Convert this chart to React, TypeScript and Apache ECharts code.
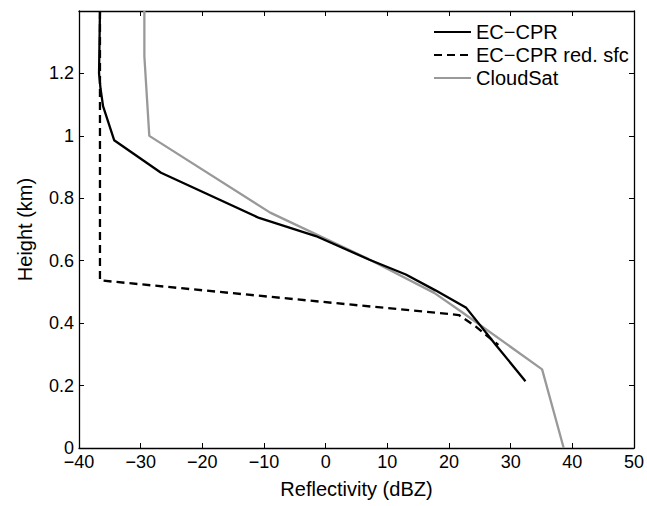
import React, { useEffect, useRef } from "react";
import * as echarts from "echarts";

const ecCprX = [-36.6, -36.75, -36.5, -36.1, -34.3, -26.7, -10.8, -1.6, 7, 13, 17.8, 22.8, 27.6, 32.4];
const ecCprY = [1.4, 1.2, 1.15, 1.095, 0.986, 0.882, 0.737, 0.679, 0.604, 0.556, 0.505, 0.449, 0.33, 0.214];

const redSfcX = [-36.6, -36.6, 21.6, 24.3, 28.0];
const redSfcY = [1.4, 0.537, 0.426, 0.39, 0.33];

const cloudSatX = [-29.4, -29.4, -28.6, -9.0, 7, 17.6, 21.9, 35.1, 38.6];
const cloudSatY = [1.4, 1.255, 1.0, 0.754, 0.605, 0.497, 0.438, 0.252, 0];

const seriesNames = ["EC\u2212CPR", "EC\u2212CPR red. sfc", "CloudSat"];

const xMin = -40;
const xMax = 50;
const xStep = 10;
const yMin = 0;
const yMax = 1.4;
const yStep = 0.2;

const zip = (xs: number[], ys: number[]) => xs.map((x, i) => [x, ys[i]]);

const FONT = "Liberation Sans, Arial, Helvetica, sans-serif";

export default function App() {
  const ref = useRef<HTMLDivElement>(null);
  useEffect(() => {
    if (!ref.current) return;
    const chart = echarts.init(ref.current, null, { renderer: "svg" });
    const axisLine = { show: true, onZero: false, lineStyle: { color: "#000", width: 1.3 } };
    const tick = { show: true, inside: true, length: 5, lineStyle: { color: "#000", width: 1 } };
    const minusFmt = (v: number) => String(v).replace("-", "\u2212");
    chart.setOption({
      animation: false,
      backgroundColor: "#fff",
      grid: { left: 79, right: 12, top: 11, bottom: 58, containLabel: false },
      legend: {
        orient: "vertical",
        left: 433,
        top: 22,
        padding: 0,
        itemGap: 3,
        itemWidth: 37,
        itemHeight: 20,
        itemStyle: { opacity: 0 },
        textStyle: { fontFamily: FONT, fontSize: 20, color: "#000" },
        data: seriesNames,
      },
      xAxis: [
        {
          type: "value",
          min: xMin,
          max: xMax,
          interval: xStep,
          position: "bottom",
          axisLine,
          axisTick: tick,
          splitLine: { show: false },
          axisLabel: {
            fontFamily: FONT,
            fontSize: 18,
            lineHeight: 14,
            color: "#000",
            margin: 7,
            formatter: minusFmt,
          },
          name: "Reflectivity (dBZ)",
          nameLocation: "middle",
          nameGap: 31,
          nameTextStyle: { fontFamily: FONT, fontSize: 20, color: "#000", verticalAlign: "top" },
        },
        {
          type: "value",
          min: xMin,
          max: xMax,
          interval: xStep,
          position: "top",
          axisLine,
          axisTick: tick,
          splitLine: { show: false },
          axisLabel: { show: false },
        },
      ],
      yAxis: [
        {
          type: "value",
          min: yMin,
          max: yMax,
          interval: yStep,
          position: "left",
          axisLine,
          axisTick: tick,
          splitLine: { show: false },
          axisLabel: {
            fontFamily: FONT,
            fontSize: 18,
            lineHeight: 14,
            color: "#000",
            margin: 5,
            showMaxLabel: false,
            formatter: (v: number) => String(Math.round(v * 10) / 10),
          },
          name: "Height (km)",
          nameLocation: "middle",
          nameGap: 44,
          nameTextStyle: { fontFamily: FONT, fontSize: 20, color: "#000" },
        },
        {
          type: "value",
          min: yMin,
          max: yMax,
          interval: yStep,
          position: "right",
          axisLine,
          axisTick: tick,
          splitLine: { show: false },
          axisLabel: { show: false },
        },
      ],
      series: [
        {
          name: seriesNames[0],
          type: "line",
          data: zip(ecCprX, ecCprY),
          symbol: "none",
          lineStyle: { color: "#000", width: 2.3 },
          itemStyle: { color: "#000" },
          z: 3,
        },
        {
          name: seriesNames[1],
          type: "line",
          data: zip(redSfcX, redSfcY),
          symbol: "none",
          lineStyle: { color: "#000", width: 2.3, type: [8, 5] },
          itemStyle: { color: "#000" },
          z: 2,
        },
        {
          name: seriesNames[2],
          type: "line",
          data: zip(cloudSatX, cloudSatY),
          symbol: "none",
          lineStyle: { color: "#999", width: 2.3 },
          itemStyle: { color: "#999" },
          z: 1,
        },
      ],
    });
    return () => chart.dispose();
  }, []);
  return (
    <div
      ref={ref}
      style={{ position: "absolute", left: 0, top: 0, width: 647, height: 506, background: "#fff" }}
    />
  );
}
